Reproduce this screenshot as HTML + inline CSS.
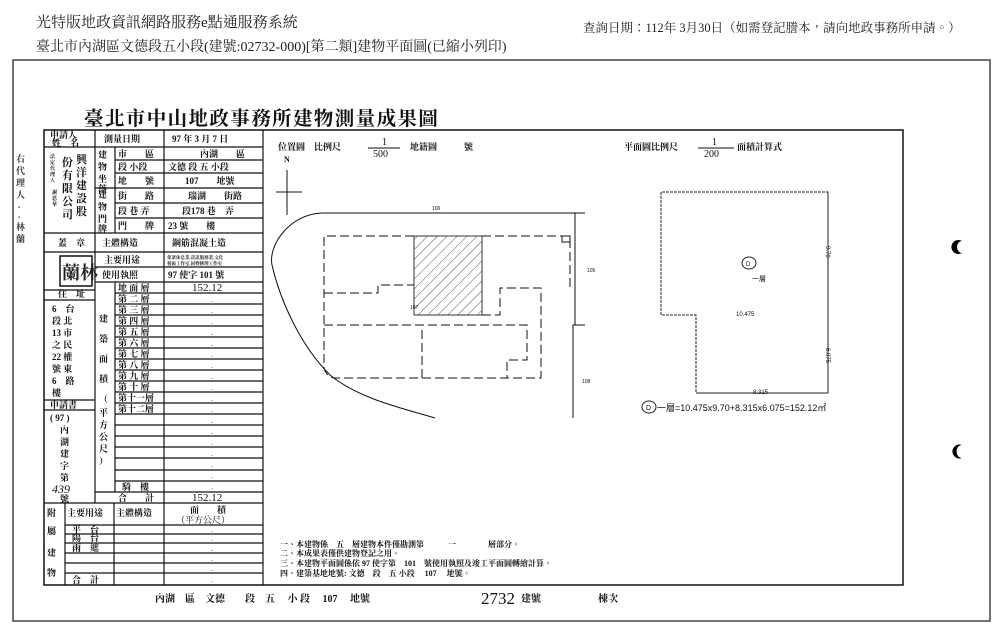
<!DOCTYPE html>
<html><head><meta charset="utf-8"><style>
html,body{margin:0;padding:0;background:#fff;}
body{width:1000px;height:635px;overflow:hidden;position:relative;}
svg{position:absolute;left:0;top:0;}
.s{font-family:"Liberation Serif","Noto Serif CJK TC",serif;}
.b{font-family:"Liberation Serif","Noto Serif CJK TC",serif;font-weight:bold;}
</style></head><body>
<svg width="1000" height="635" viewBox="0 0 1000 635" xmlns="http://www.w3.org/2000/svg">
<g class="s" fill="#222">
<text x="36" y="27" font-size="15">光特版地政資訊網路服務e點通服務系統</text>
<text x="36" y="51" font-size="14">臺北市內湖區文德段五小段(建號:02732-000)[第二類]建物平面圖(已縮小列印)</text>
<text x="583" y="32" font-size="12.5">查詢日期：112年 3月30日（如需登記謄本，請向地政事務所申請。）</text>
</g>
<rect x="13" y="60" width="977" height="561" fill="none" stroke="#444" stroke-width="1.5"/>
<rect x="44" y="130" width="859" height="455" fill="none" stroke="#111" stroke-width="1.5"/>
<text x="84" y="125" class="b" font-size="19.5" letter-spacing="1.4" fill="#111">臺北市中山地政事務所建物測量成果圖</text>
<!-- left vertical text -->
<g class="b" font-size="9" fill="#333">
<text x="16" y="162">右</text><text x="16" y="174">代</text><text x="16" y="186">理</text><text x="16" y="198">人</text><text x="18" y="208">.</text><text x="18" y="218">.</text><text x="16" y="230">林</text><text x="16" y="242">蘭</text>
</g>
<!-- table lines -->
<g stroke="#111" stroke-width="1.2" fill="none">
<line x1="95" y1="130" x2="95" y2="503"/>
<line x1="164" y1="130" x2="164" y2="585"/>
<line x1="263" y1="130" x2="263" y2="585"/>
<line x1="115" y1="147" x2="115" y2="233"/>
<line x1="115" y1="282" x2="115" y2="492"/>
<line x1="65" y1="503" x2="65" y2="585"/>
<line x1="114" y1="503" x2="114" y2="585"/>
<line x1="44" y1="147" x2="263" y2="147"/>
<line x1="115" y1="160" x2="263" y2="160"/>
<line x1="115" y1="173" x2="263" y2="173"/>
<line x1="95" y1="188" x2="263" y2="188"/>
<line x1="115" y1="203" x2="263" y2="203"/>
<line x1="115" y1="218" x2="263" y2="218"/>
<line x1="44" y1="233" x2="263" y2="233"/>
<line x1="44" y1="252" x2="263" y2="252"/>
<line x1="95" y1="267" x2="263" y2="267"/>
<line x1="95" y1="282" x2="263" y2="282"/>
<line x1="44" y1="290" x2="95" y2="290"/>
<line x1="44" y1="300" x2="95" y2="300"/>
<line x1="44" y1="400" x2="95" y2="400"/>
<line x1="44" y1="410" x2="95" y2="410"/>
<line x1="115" y1="293" x2="263" y2="293"/>
<line x1="115" y1="304" x2="263" y2="304"/>
<line x1="115" y1="315" x2="263" y2="315"/>
<line x1="115" y1="326" x2="263" y2="326"/>
<line x1="115" y1="337" x2="263" y2="337"/>
<line x1="115" y1="348" x2="263" y2="348"/>
<line x1="115" y1="359" x2="263" y2="359"/>
<line x1="115" y1="370" x2="263" y2="370"/>
<line x1="115" y1="381" x2="263" y2="381"/>
<line x1="115" y1="392" x2="263" y2="392"/>
<line x1="115" y1="403" x2="263" y2="403"/>
<line x1="115" y1="414" x2="263" y2="414"/>
<line x1="115" y1="425" x2="263" y2="425"/>
<line x1="115" y1="436" x2="263" y2="436"/>
<line x1="115" y1="447" x2="263" y2="447"/>
<line x1="115" y1="458" x2="263" y2="458"/>
<line x1="115" y1="470" x2="263" y2="470"/>
<line x1="115" y1="481" x2="263" y2="481"/>
<line x1="95" y1="492" x2="263" y2="492"/>
<line x1="44" y1="503" x2="263" y2="503"/>
<line x1="65" y1="525" x2="263" y2="525"/>
<line x1="65" y1="534" x2="263" y2="534"/>
<line x1="65" y1="543" x2="263" y2="543"/>
<line x1="65" y1="553" x2="263" y2="553"/>
<line x1="65" y1="563" x2="263" y2="563"/>
<line x1="65" y1="573" x2="263" y2="573"/>
<rect x="60" y="256" width="32" height="30" stroke-width="1.5"/>
</g>
<g class="b" font-size="9" fill="#111">
<text x="50" y="138">申請人</text><text x="52" y="146">姓　名</text>
<text x="104" y="142">測量日期</text><text x="172" y="142">97 年 3 月 7 日</text>
<text x="98" y="158">建</text><text x="98" y="170">物</text><text x="98" y="182">坐</text><text x="98" y="192">落</text>
<text x="118" y="157">市　　區</text><text x="200" y="157">內湖　　區</text>
<text x="118" y="170">段 小段</text><text x="168" y="170">文德 段 五 小段</text>
<text x="118" y="184">地　　號</text><text x="185" y="184">107　　地號</text>
<text x="98" y="198">建</text><text x="98" y="210">物</text><text x="98" y="222">門</text><text x="98" y="232">牌</text>
<text x="118" y="199">街　　路</text><text x="188" y="199">瑞湖　　街路</text>
<text x="118" y="214">段 巷 弄</text><text x="182" y="214">段178 巷　弄</text>
<text x="118" y="229">門　　牌</text><text x="168" y="229">23 號　　樓</text>
<text x="58" y="246">蓋　章</text><text x="102" y="246">主體構造</text><text x="172" y="246">鋼筋混凝土造</text>
<text x="104" y="263">主要用途</text><text x="102" y="278">使用執照</text><text x="168" y="278">97 使字 101 號</text>
<text x="58" y="297">住　址</text>
<text x="52" y="312">6　台</text><text x="52" y="324">段 北</text><text x="52" y="336">13 市</text><text x="52" y="348">之 民</text><text x="52" y="360">22 權</text><text x="52" y="372">號 東</text><text x="52" y="384">6　路</text><text x="52" y="396">樓</text>
<text x="50" y="408">申請書</text>
<text x="50" y="421">( 97 )</text><text x="60" y="433">內</text><text x="60" y="445">湖</text><text x="60" y="457">建</text><text x="60" y="469">字</text><text x="60" y="481">第</text>
<text x="52" y="493" font-size="12" font-weight="normal" font-style="italic">439</text><text x="60" y="502">號</text>
<text x="99" y="322">建</text><text x="99" y="342">築</text><text x="99" y="362">面</text><text x="99" y="382">積</text><text x="99" y="402">（</text><text x="99" y="416">平</text><text x="99" y="428">方</text><text x="99" y="440">公</text><text x="99" y="452">尺</text><text x="99" y="464">）</text>
<text x="118" y="291">地 面 層</text><text x="118" y="302">第 二 層</text><text x="118" y="313">第 三 層</text><text x="118" y="324">第 四 層</text><text x="118" y="335">第 五 層</text><text x="118" y="346">第 六 層</text><text x="118" y="357">第 七 層</text><text x="118" y="368">第 八 層</text><text x="118" y="379">第 九 層</text><text x="118" y="390">第 十 層</text><text x="118" y="401">第十一層</text><text x="118" y="412">第十二層</text>
<text x="122" y="490">騎　樓</text><text x="118" y="501">合　　計</text>
<text x="47" y="516">附</text><text x="47" y="534">屬</text><text x="47" y="556">建</text><text x="47" y="576">物</text>
<text x="67" y="516">主要用途</text><text x="116" y="516">主體構造</text>
<text x="190" y="513">面　　積</text><text x="176" y="523" font-weight="normal">（平方公尺）</text>
<text x="72" y="533">平　台</text><text x="72" y="541">陽　台</text><text x="72" y="551">雨　遮</text><text x="72" y="583">合　計</text>
</g>
<g font-family="Liberation Serif,serif" font-size="11" fill="#111">
<text x="192" y="291">152.12</text><text x="192" y="501">152.12</text>
</g>
<g font-family="Liberation Sans,sans-serif" font-size="8" fill="#444">
<text x="211" y="302">.</text><text x="211" y="313">.</text><text x="211" y="324">.</text><text x="211" y="335">.</text><text x="211" y="346">.</text><text x="211" y="357">.</text><text x="211" y="368">.</text><text x="211" y="379">.</text><text x="211" y="390">.</text><text x="211" y="401">.</text><text x="211" y="412">.</text><text x="211" y="423">.</text><text x="211" y="434">.</text><text x="211" y="445">.</text><text x="211" y="456">.</text><text x="211" y="467">.</text><text x="211" y="478">.</text><text x="211" y="489">.</text>
<text x="211" y="532">.</text><text x="211" y="541">.</text><text x="211" y="551">.</text><text x="211" y="561">.</text><text x="211" y="571">.</text><text x="211" y="582">.</text>
</g>
<text x="167" y="259" class="b" font-size="4.5" fill="#222">集眾休息業.資訊服務業.文化</text>
<text x="167" y="265" class="b" font-size="4.5" fill="#222">藝術工作室.固物修理工作室</text>
<text x="62" y="279" class="b" font-size="18" fill="#222">蘭林</text>
<g class="b" font-size="11" fill="#111">
<text x="76" y="163">興</text><text x="76" y="176">洋</text><text x="76" y="189">建</text><text x="76" y="202">設</text><text x="76" y="215">股</text>
<text x="62" y="166">份</text><text x="62" y="179">有</text><text x="62" y="192">限</text><text x="62" y="205">公</text><text x="62" y="218">司</text>
</g>
<g class="b" font-size="5" fill="#111">
<text x="50" y="158">法</text><text x="50" y="164">定</text><text x="50" y="170">代</text><text x="50" y="176">理</text><text x="50" y="182">人</text>
<text x="52" y="194">謝</text><text x="52" y="200">恩</text><text x="52" y="206">華</text>
</g>
<g class="b" font-size="9" fill="#111">
<text x="278" y="150">位置圖　比例尺</text><text x="410" y="150">地籍圖　　　號</text>
<text x="624" y="150">平面圖比例尺</text><text x="737" y="150">面積計算式</text>
</g>
<g font-family="Liberation Serif,serif" font-size="10" fill="#111">
<text x="382" y="145">1</text><text x="373" y="157">500</text>
<text x="712" y="145">1</text><text x="704" y="157">200</text>
<text x="284" y="162" font-size="8" font-weight="bold">N</text>
</g>
<g stroke="#111" stroke-width="1" fill="none">
<line x1="368" y1="148" x2="400" y2="148"/>
<line x1="698" y1="148" x2="734" y2="148"/>
<line x1="287" y1="170" x2="287" y2="215"/>
<line x1="276" y1="192" x2="302" y2="192"/>
<path d="M322 213 L585 213"/>
<line x1="575" y1="213" x2="575" y2="325"/>
<path d="M575 325 L573 325 L573 418 M573 325 L585 325"/>
<path d="M322 213 C290 214 268 245 272 265 C280 300 300 345 330 375 C360 400 410 410 435 418"/>
<g stroke-dasharray="9,4">
<path d="M414 236 L324 236 L324 368 Q326 376 334 378 L541 378 L541 288 L500 288 L500 315 L482 315"/>
<path d="M482 236 L570 236 L570 287"/>
<path d="M324 293 L378 293 L378 285 L414 285"/>
<path d="M324 325 L527 325 L527 360 L507 360 L507 378"/>
<path d="M422 330 L422 378"/>
</g>
<rect x="414" y="236" width="68" height="79" stroke="#333"/>
<rect x="562" y="236" width="8" height="6"/>
</g>
<defs><pattern id="h" width="7" height="7" patternUnits="userSpaceOnUse" patternTransform="rotate(45)"><line x1="0" y1="0" x2="0" y2="7" stroke="#222" stroke-width="1"/></pattern></defs>
<rect x="414" y="236" width="68" height="79" fill="url(#h)" opacity="0.75"/>
<g font-family="Liberation Sans,sans-serif" font-size="5" fill="#111">
<text x="432" y="210">106</text><text x="410" y="309">107</text><text x="587" y="272">105</text><text x="582" y="383">108</text>
</g>
<g stroke="#222" stroke-width="1" fill="none">
<path d="M661 315 L661 192 L828 192 L828 393 L696 393 L696 315 Z" stroke-dasharray="3,1"/>
<line x1="828" y1="192" x2="828" y2="393"/>
<line x1="696" y1="393" x2="828" y2="393"/>
<ellipse cx="749" cy="263" rx="7" ry="6"/>
<ellipse cx="649" cy="407" rx="7" ry="6"/>
</g>
<g font-family="Liberation Sans,sans-serif" fill="#111">
<text x="746" y="266" font-size="6">D</text>
<text x="752" y="281" font-size="7">一層</text>
<text x="736" y="316" font-size="6">10.475</text>
<text x="753" y="394" font-size="6">8.315</text>
<text x="0" y="0" font-size="6" transform="translate(826,246) rotate(90)">9.70</text>
<text x="0" y="0" font-size="6" transform="translate(826,348) rotate(90)">6.075</text>
<text x="646" y="410" font-size="7">D</text>
<text x="657" y="411" font-size="9">一層=10.475x9.70+8.315x6.075=152.12㎡</text>
</g>
<g class="b" font-size="8" fill="#111">
<text x="280" y="547">一、本建物係　五　層建物本件僅勘測第　　　一　　　　層部分。</text>
<text x="280" y="556">二、本成果表僅供建物登記之用。</text>
<text x="280" y="566">三、本建物平面圖係依 97 使字第　101　號使用執照及竣工平面圖轉繪計算。</text>
<text x="280" y="576">四、建築基地地號: 文德　段　五 小段　 107　 地號。</text>
</g>
<g class="b" font-size="10" fill="#111">
<text x="155" y="602">內湖　區　文德　　段　五　 小 段　 107　 地號</text>
<text x="481" y="604" font-family="Liberation Serif,serif" font-size="17" font-weight="normal">2732</text>
<text x="521" y="602">建號</text>
<text x="598" y="602">棟次</text>
</g>
<path d="M962 241 A7 7 0 1 0 962 253 A5 6 0 1 1 962 241 Z" fill="#000"/>
<path d="M962 445 A7 7 0 1 0 962 458 A5 6 0 1 1 962 445 Z" fill="#000"/>
</svg>
</body></html>
